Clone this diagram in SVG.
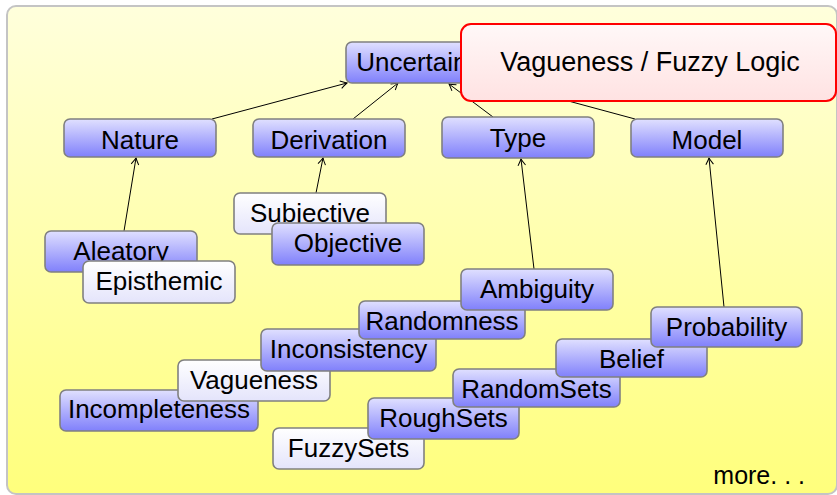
<svg xmlns="http://www.w3.org/2000/svg" width="837" height="495" viewBox="0 0 837 495">
<defs>
<linearGradient id="bg" x1="0" y1="0" x2="0" y2="1">
<stop offset="0" stop-color="#ffffdc"/>
<stop offset="1" stop-color="#ffff7c"/>
</linearGradient>
<linearGradient id="blue" x1="0" y1="0" x2="0" y2="1">
<stop offset="0" stop-color="#e0e0ff"/>
<stop offset="1" stop-color="#8080fb"/>
</linearGradient>
<linearGradient id="white" x1="0" y1="0" x2="0" y2="1">
<stop offset="0" stop-color="#ffffff"/>
<stop offset="1" stop-color="#e4e4fb"/>
</linearGradient>
<linearGradient id="red" x1="0" y1="0" x2="0" y2="1">
<stop offset="0" stop-color="#fff8f8"/>
<stop offset="1" stop-color="#ffe2e2"/>
</linearGradient>
<marker id="arr" viewBox="-8 -5 10 10" refX="0" refY="0" markerWidth="10" markerHeight="10" orient="auto" markerUnits="userSpaceOnUse">
<path d="M-6.5,-3.8 Q-2,-0.9 0,0 Q-2,0.9 -6.5,3.8" fill="none" stroke="#000" stroke-width="1"/>
</marker>
</defs>
<style>
.b rect{fill:url(#blue);stroke:#808080;stroke-width:1.6}
.w rect{fill:url(#white);stroke:#808080;stroke-width:1.6}
text{font-family:"Liberation Sans",Arial,sans-serif;font-size:26px;fill:#000;text-anchor:middle}
.c line{stroke:#000;stroke-width:1;marker-end:url(#arr)}
</style>
<rect x="7" y="6" width="830" height="488" rx="9" fill="url(#bg)" stroke="#c4c4c4" stroke-width="2"/>
<g id="connectors" class="c">
<line x1="212" y1="119" x2="347" y2="83"/>
<line x1="353" y1="119" x2="398" y2="83"/>
<line x1="493" y1="117" x2="449" y2="84"/>
<line x1="635" y1="119" x2="498" y2="82"/>
<line x1="124" y1="231" x2="136" y2="158"/>
<line x1="316" y1="193" x2="323" y2="158"/>
<line x1="534" y1="269" x2="521" y2="159"/>
<line x1="724" y1="307" x2="709" y2="158"/>
</g>
<g id="uncertainty" class="b"><rect x="346" y="42" width="152" height="41" rx="6"/><text x="422" y="71">Uncertainty</text></g>
<g id="nature" class="b"><rect x="64" y="119" width="152" height="38" rx="6"/><text x="140" y="148.5">Nature</text></g>
<g id="derivation" class="b"><rect x="253" y="119" width="152" height="38" rx="6"/><text x="329" y="148.5">Derivation</text></g>
<g id="type" class="b"><rect x="442" y="117" width="152" height="41" rx="6"/><text x="518" y="146.5">Type</text></g>
<g id="model" class="b"><rect x="631" y="119" width="152" height="38" rx="6"/><text x="707" y="148.5">Model</text></g>
<g id="aleatory" class="b"><rect x="45" y="231" width="152" height="41" rx="6"/><text x="121" y="260">Aleatory</text></g>
<g id="episthemic" class="w"><rect x="83" y="261" width="152" height="42" rx="6"/><text x="159" y="290">Episthemic</text></g>
<g id="subjective" class="w"><rect x="234" y="193" width="152" height="41" rx="6"/><text x="310" y="222">Subjective</text></g>
<g id="objective" class="b"><rect x="272" y="223" width="152" height="42" rx="6"/><text x="348" y="252">Objective</text></g>
<g id="incompleteness" class="b"><rect x="60" y="390" width="198" height="41" rx="6"/><text x="159" y="418">Incompleteness</text></g>
<g id="vagueness" class="w"><rect x="178" y="360" width="152" height="41" rx="6"/><text x="254" y="388.5">Vagueness</text></g>
<g id="inconsistency" class="b"><rect x="261" y="329" width="175" height="42" rx="6"/><text x="348.5" y="358">Inconsistency</text></g>
<g id="randomness" class="b"><rect x="359" y="301" width="166" height="38" rx="6"/><text x="442" y="330">Randomness</text></g>
<g id="ambiguity" class="b"><rect x="461" y="269" width="152" height="41" rx="6"/><text x="537" y="297.5">Ambiguity</text></g>
<g id="fuzzysets" class="w"><rect x="273" y="428" width="151" height="41" rx="6"/><text x="348.5" y="457">FuzzySets</text></g>
<g id="roughsets" class="b"><rect x="368" y="398" width="151" height="41" rx="6"/><text x="443.5" y="427">RoughSets</text></g>
<g id="randomsets" class="b"><rect x="453" y="369" width="167" height="38" rx="6"/><text x="536.5" y="397.5">RandomSets</text></g>
<g id="belief" class="b"><rect x="556" y="339" width="151" height="38" rx="6"/><text x="631.5" y="367.5">Belief</text></g>
<g id="probability" class="b"><rect x="651" y="307" width="151" height="40" rx="6"/><text x="726.5" y="335.5">Probability</text></g>
<g id="callout"><rect x="461" y="24" width="375" height="77" rx="10" fill="url(#red)" stroke="#ff0000" stroke-width="2"/><text x="650" y="70.5" style="font-size:27px">Vagueness / Fuzzy Logic</text></g>
<text x="805" y="484" style="text-anchor:end;font-size:25px">more. . .</text>
</svg>
